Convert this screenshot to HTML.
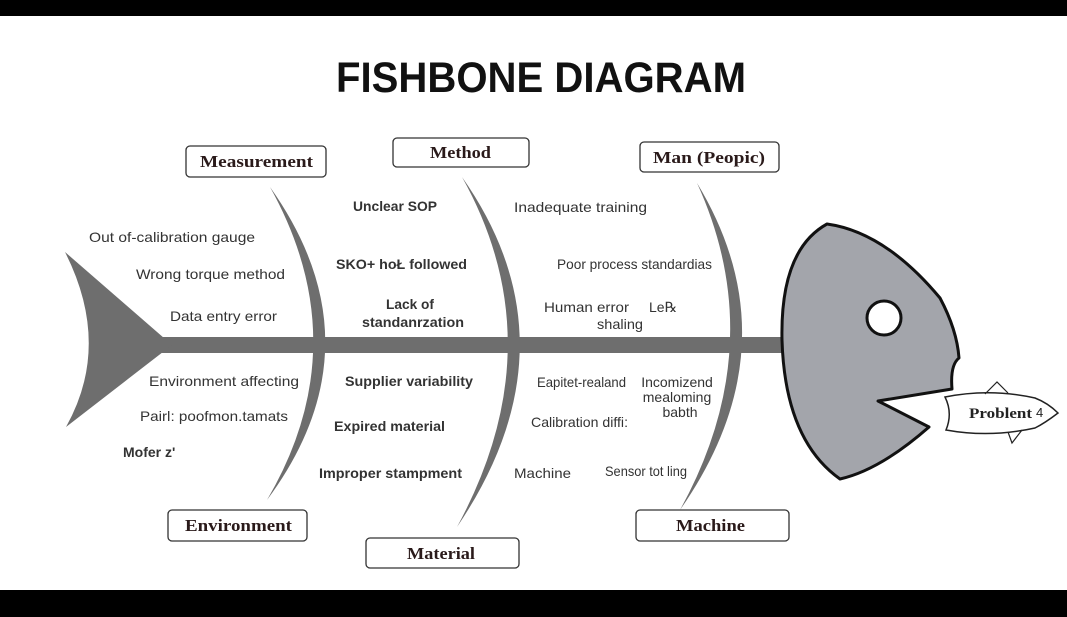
<!DOCTYPE html>
<html><head><meta charset="utf-8"><style>
html,body{margin:0;padding:0;background:#fff;}
svg{display:block;}
.t{font-family:"Liberation Sans",sans-serif;font-size:14px;fill:#333;}
.b{font-family:"Liberation Serif",serif;font-weight:bold;font-size:17px;fill:#2a1a1a;}
</style></head><body>
<svg width="1067" height="617" viewBox="0 0 1067 617" xmlns="http://www.w3.org/2000/svg">
<rect x="0" y="0" width="1067" height="617" fill="#fff"/>
<rect x="0" y="0" width="1067" height="16" fill="#000"/>
<rect x="0" y="590" width="1067" height="27" fill="#000"/>
<text x="541" y="92" text-anchor="middle" font-family="Liberation Sans, sans-serif" font-weight="bold" font-size="43" fill="#111" textLength="410" lengthAdjust="spacingAndGlyphs">FISHBONE DIAGRAM</text>

<rect x="160" y="337" width="625" height="16" fill="#6e6e6e"/>
<path d="M65,252 L172,345 L66,427 Q112,345 65,252 Z" fill="#6e6e6e"/>
<path d="M270,187 Q382,345 267,500 Q358,345 270,187 Z" fill="#6e6e6e"/>
<path d="M462,177 Q580,345 457,527 Q556,345 462,177 Z" fill="#6e6e6e"/>
<path d="M697,183 Q795,345 680,510 Q771,345 697,183 Z" fill="#6e6e6e"/>

<path d="M827,224 Q780,250 782,340 Q785,440 840,479 Q880,470 929,427 L878,401 L952,389 Q950,365 959,358 Q957,330 940,298 Q885,232 827,224 Z" fill="#a3a5ab" stroke="#111" stroke-width="3" stroke-linejoin="round"/>
<circle cx="884" cy="318" r="17" fill="#fff" stroke="#111" stroke-width="3"/>

<path d="M945,397 Q990,388 1035,398 Q1048,403 1058,413 Q1045,423 1035,428 Q990,438 946,430 Q953,413 945,397 Z" fill="#fff" stroke="#222" stroke-width="1.5"/>
<path d="M985,394 L997,382 L1008,393" fill="none" stroke="#222" stroke-width="1.2"/>
<path d="M1008,432 L1012,443 L1022,430" fill="none" stroke="#222" stroke-width="1.2"/>
<text x="969" y="418" font-family="Liberation Serif, serif" font-weight="bold" font-size="15" fill="#222" textLength="63" lengthAdjust="spacingAndGlyphs">Problent</text>
<text x="1036" y="417" font-family="Liberation Sans, sans-serif" font-size="13" fill="#222">4</text>

<rect x="186" y="146" width="140" height="31" rx="4" fill="#fff" stroke="#333" stroke-width="1.3"/>
<text class="b" x="200" y="167" textLength="113" lengthAdjust="spacingAndGlyphs">Measurement</text>
<rect x="393" y="138" width="136" height="29" rx="4" fill="#fff" stroke="#333" stroke-width="1.3"/>
<text class="b" x="430" y="158" textLength="61" lengthAdjust="spacingAndGlyphs">Method</text>
<rect x="640" y="142" width="139" height="30" rx="4" fill="#fff" stroke="#333" stroke-width="1.3"/>
<text class="b" x="653" y="163" textLength="112" lengthAdjust="spacingAndGlyphs">Man (Peopic)</text>
<rect x="168" y="510" width="139" height="31" rx="4" fill="#fff" stroke="#333" stroke-width="1.3"/>
<text class="b" x="185" y="531" textLength="107" lengthAdjust="spacingAndGlyphs">Environment</text>
<rect x="366" y="538" width="153" height="30" rx="4" fill="#fff" stroke="#333" stroke-width="1.3"/>
<text class="b" x="407" y="559" textLength="68" lengthAdjust="spacingAndGlyphs">Material</text>
<rect x="636" y="510" width="153" height="31" rx="4" fill="#fff" stroke="#333" stroke-width="1.3"/>
<text class="b" x="676" y="531" textLength="69" lengthAdjust="spacingAndGlyphs">Machine</text>

<g lengthAdjust="spacingAndGlyphs">
<text class="t" x="89" y="242" textLength="166" lengthAdjust="spacingAndGlyphs">Out of-calibration gauge</text>
<text class="t" x="136" y="279" textLength="149" lengthAdjust="spacingAndGlyphs">Wrong torque method</text>
<text class="t" x="170" y="321" textLength="107" lengthAdjust="spacingAndGlyphs">Data entry error</text>
<text class="t" x="149" y="386" textLength="150" lengthAdjust="spacingAndGlyphs">Environment affecting</text>
<text class="t" x="140" y="421" textLength="148" lengthAdjust="spacingAndGlyphs">Pairl: poofmon.tamats</text>
<text class="t" x="123" y="457" font-weight="bold">Mofer z'</text>

<text class="t" x="353" y="211" font-weight="bold" textLength="84" lengthAdjust="spacingAndGlyphs">Unclear SOP</text>
<text class="t" x="336" y="269" font-weight="bold" textLength="131" lengthAdjust="spacingAndGlyphs">SKO+  hoŁ followed</text>
<text class="t" x="386" y="309" font-weight="bold" textLength="48" lengthAdjust="spacingAndGlyphs">Lack of</text>
<text class="t" x="362" y="327" font-weight="bold" textLength="102" lengthAdjust="spacingAndGlyphs">standanrzation</text>
<text class="t" x="345" y="386" font-weight="bold" textLength="128" lengthAdjust="spacingAndGlyphs">Supplier variability</text>
<text class="t" x="334" y="431" font-weight="bold" textLength="111" lengthAdjust="spacingAndGlyphs">Expired material</text>
<text class="t" x="319" y="478" font-weight="bold" textLength="143" lengthAdjust="spacingAndGlyphs">Improper stampment</text>

<text class="t" x="514" y="212" textLength="133" lengthAdjust="spacingAndGlyphs">Inadequate training</text>
<text class="t" x="557" y="269" textLength="155" lengthAdjust="spacingAndGlyphs">Poor process standardias</text>
<text class="t" x="544" y="312" textLength="85" lengthAdjust="spacingAndGlyphs">Human error</text>
<text class="t" x="649" y="312">Le℞</text>
<text class="t" x="597" y="329" textLength="46" lengthAdjust="spacingAndGlyphs">shaling</text>
<text class="t" x="537" y="387" textLength="89" lengthAdjust="spacingAndGlyphs">Eapitet-realand</text>
<text class="t" x="677" y="387" font-size="12" text-anchor="middle">Incomizend</text>
<text class="t" x="677" y="402" font-size="12" text-anchor="middle">mealoming</text>
<text class="t" x="680" y="417" font-size="12" text-anchor="middle">babth</text>
<text class="t" x="531" y="427" textLength="97" lengthAdjust="spacingAndGlyphs">Calibration diffi:</text>
<text class="t" x="514" y="478" textLength="57" lengthAdjust="spacingAndGlyphs">Machine</text>
<text class="t" x="605" y="476" font-size="12.5" textLength="82" lengthAdjust="spacingAndGlyphs">Sensor tot ling</text>
</g>
</svg>
</body></html>
